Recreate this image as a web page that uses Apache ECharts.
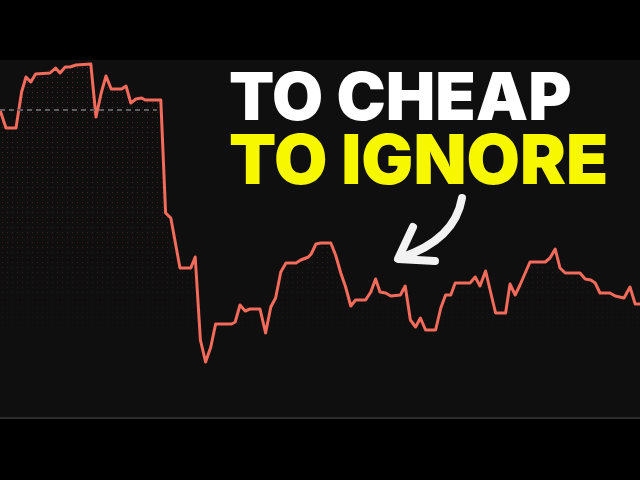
<!DOCTYPE html>
<html>
<head>
<meta charset="utf-8">
<script src="https://cdn.jsdelivr.net/npm/echarts@6/dist/echarts.min.js"></script>
<style>
html,body{margin:0;padding:0;background:#000;}
#chart{width:640px;height:480px;}
</style>
</head>
<body>
<div id="chart"></div>
<script>
// time index (days) and price values
const days = [0,0.5,1.5,4,5.4,6.5,7.7,8.9,12.5,13.9,15,16.3,17.5,19,22.7,24,25.3,26.5,27.8,30.4,31.5,32.7,34,35.4,36.3,40.2,41.4,42.7,45,47.7,48.8,50.1,51.4,52.7,53.9,57.9,58.8,60,61.3,62.5,65,66.4,67.7,68.9,70.2,71.5,74,75.2,77.1,77.8,79,80.2,82.7,83.9,85.2,86.4,87.7,88.9,91.4,92.7,93.9,95,96.4,97.7,100.1,101.3,102.6,103.9,105.1,106.4,108.9,110.2,111.4,112.7,113.8,117.5,118.8,120,121.4,122.7,123.9,126.4,127.5,128.8,130,132.5,136.3,137.5,138.8,140,141.3,145,146.3,147.7,148.8,150,152.5,153.8,156,157.5,158.8,160];
const prices = [30.7,30.5,28.9,28.9,32.5,34.0,33.5,34.3,34.4,34.9,34.4,35.0,35.0,35.2,35.3,30.0,32.4,34.1,32.8,32.8,33.1,31.4,31.8,31.9,31.7,31.7,20.4,19.9,14.9,14.9,16.0,7.7,5.5,7.0,9.3,9.3,9.5,11.2,10.6,10.8,10.8,8.4,11.0,11.9,14.5,15.4,15.4,15.7,16.0,16.3,17.3,17.4,17.4,16.2,14.4,13.0,11.1,11.7,11.7,12.5,13.8,12.5,12.4,12.1,12.2,13.1,9.7,9.0,9.9,8.7,8.7,10.9,12.2,12.2,13.4,13.4,14.0,13.1,14.6,12.4,10.4,10.4,13.3,12.2,13.2,15.5,15.5,15.9,16.8,14.9,14.4,14.4,13.8,13.7,13.4,12.4,12.4,12.1,11.9,13.0,11.3,11.3];
const refLevel = 30.7;     // dashed reference price
const refEndDay = 39.2;    // dashed line end
const titleLine1 = 'TO CHEAP';
const titleLine2 = 'TO IGNORE';

const series = days.map((d, i) => [d, prices[i]]);

// dotted pattern for the area
const pat = document.createElement('canvas');
pat.width = 5; pat.height = 5;
const pctx = pat.getContext('2d');
pctx.fillStyle = 'rgba(240,100,90,0.36)';
pctx.fillRect(2, 2, 1, 1);

const chart = echarts.init(document.getElementById('chart'), null, {renderer: 'canvas'});
chart.setOption({
  animation: false,
  backgroundColor: '#000',
  grid: {left: 0, right: 0, top: 60, bottom: 63, show: true, backgroundColor: '#0f0f0f', borderWidth: 0},
  xAxis: {
    type: 'value', min: 0, max: 160,
    axisLine: {show: true, onZero: false, lineStyle: {color: '#2c2c2c', width: 3}},
    axisTick: {show: false}, axisLabel: {show: false}, splitLine: {show: false}
  },
  yAxis: {
    type: 'value', min: 0, max: 35.7,
    axisLine: {show: false}, axisTick: {show: false}, axisLabel: {show: false}, splitLine: {show: false}
  },
  series: [
    {
      type: 'line', data: series, symbol: 'none', z: 1,
      lineStyle: {width: 0},
      areaStyle: {color: {image: pat, repeat: 'repeat'}, opacity: 1}
    },
    {
      type: 'line', data: series, symbol: 'none', z: 2,
      lineStyle: {width: 0},
      areaStyle: {
        opacity: 1,
        color: new echarts.graphic.LinearGradient(0, 0, 0, 1, [
          {offset: 0, color: 'rgba(15,15,15,0)'},
          {offset: 0.55, color: 'rgba(15,15,15,0.55)'},
          {offset: 0.8, color: 'rgba(15,15,15,1)'},
          {offset: 1, color: 'rgba(15,15,15,1)'}
        ])
      }
    },
    {
      type: 'line', data: series, symbol: 'none', z: 3,
      lineStyle: {color: '#f26b5b', width: 3, join: 'round'},
      markLine: {
        silent: true, symbol: 'none', label: {show: false},
        lineStyle: {color: '#5e5e5e', type: [5, 4], width: 2},
        data: [[{coord: [0, refLevel]}, {coord: [refEndDay, refLevel]}]]
      }
    }
  ],
  graphic: [
    {
      type: 'text', left: 229, top: 67, z: 10,
      style: {text: titleLine1, fill: '#ffffff', font: '900 66px Inter',
        shadowColor: 'rgba(0,0,0,0.6)', shadowBlur: 3}
    },
    {
      type: 'text', left: 229, top: 129, z: 10,
      style: {text: titleLine2, fill: '#f7f700', font: '900 69px Inter',
        shadowColor: 'rgba(0,0,0,0.6)', shadowBlur: 3}
    },
    {
      type: 'bezierCurve', z: 10,
      shape: {x1: 462, y1: 198, cpx1: 455, cpy1: 240, x2: 400, y2: 258},
      style: {stroke: '#f2f2f2', lineWidth: 8, lineCap: 'round', fill: null}
    },
    {
      type: 'polyline', z: 10,
      shape: {points: [[413, 227], [398, 259], [435, 261]]},
      style: {stroke: '#f2f2f2', lineWidth: 8, lineCap: 'round', lineJoin: 'round', fill: null}
    }
  ]
});
</script>
</body>
</html>
